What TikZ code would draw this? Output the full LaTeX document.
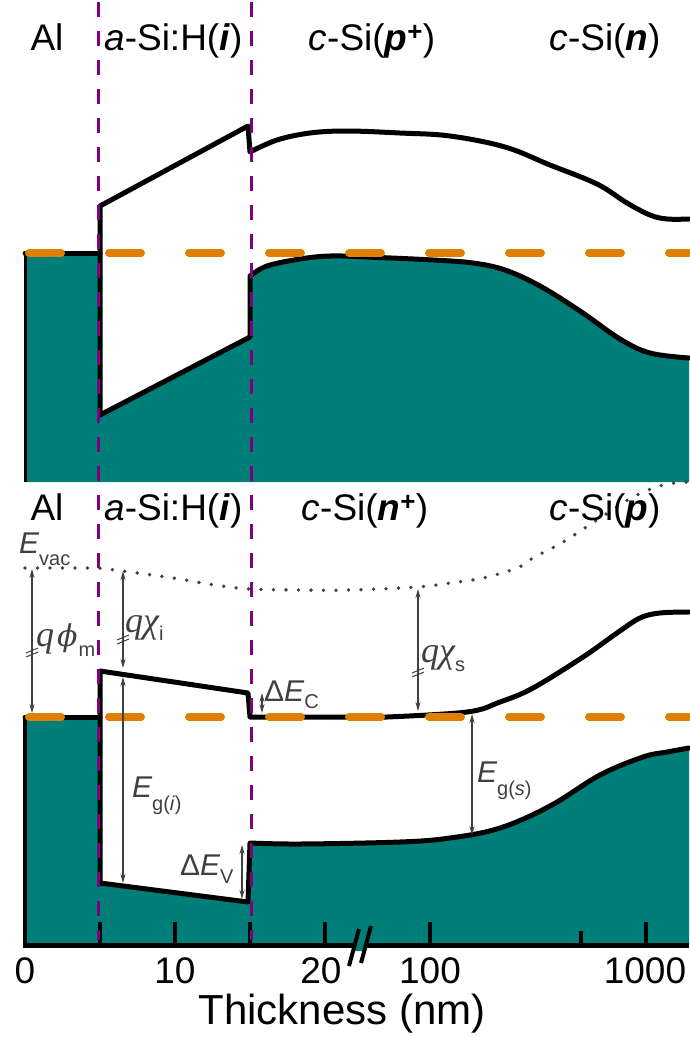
\documentclass[tikz,border=0pt]{standalone}
\usepackage{fontspec}
\setmainfont{Liberation Sans}
\newfontfamily\serf{Liberation Serif}
\newfontfamily\dserf{DejaVu Serif}
\usetikzlibrary{arrows.meta}
\definecolor{tealc}{RGB}{0,127,122}
\definecolor{fermi}{RGB}{224,128,0}
\definecolor{purp}{RGB}{128,0,128}
\definecolor{arr}{RGB}{64,64,64}
\newcommand{\sbx}[2]{\raisebox{-#1pt}{\fontsize{20}{20}\selectfont #2}}
\newcommand{\bE}{{\fontsize{30}{30}\selectfont\itshape E}}
\newcommand{\qg}[1]{{\fontsize{36}{36}\selectfont\serf\itshape q#1}}
\begin{document}
\begin{tikzpicture}[x=1pt,y=-1pt,
  bandline/.style={line width=5pt, line join=round, line cap=round},
  fermiline/.style={draw=fermi, line width=8pt, line cap=round, dash pattern=on 32pt off 48pt},
  ifcline/.style={draw=purp, line width=3pt, dash pattern=on 15pt off 14pt},
  vacline/.style={draw=arr, line width=3.8pt, line cap=round, dash pattern=on 0pt off 12.5pt},
  dimarrow/.style={draw=arr, line width=1.1pt, {Stealth[length=9pt,width=5pt]}-{Stealth[length=9pt,width=5pt]}},
  brk/.style={draw=arr, line width=1pt},
  lab/.style={inner sep=0pt, anchor=base, font=\fontsize{37}{37}\selectfont},
  axtick/.style={line width=4pt},
  ticklab/.style={inner sep=0pt, anchor=base, font=\fontsize{37}{37}\selectfont},
  sym/.style={inner sep=0pt, text=arr, anchor=base west},
]
\useasboundingbox (0,0) rectangle (689,1037);

% ---------- top panel fill ----------
\fill[tealc] (25,253) -- (100,253) -- (100,415) -- (250,337) -- (250,276)
  -- plot[smooth,tension=0.6] coordinates {(250,276) (267,266) (300,259) (330,256) (367,257) (433,260) (473,263) (505,270) (540,286) (580,311) (620,339) (650,353) (689,358)}
  -- (689,482) -- (25,482) -- cycle;
% ---------- bottom panel fill ----------
\fill[tealc] (25,717) -- (100,717) -- (100,883) -- (248,902) -- (250,843)
  -- plot[smooth,tension=0.6] coordinates {(250,843) (300,844) (400,842) (450,838) (500,828) (550,806) (600,775) (643,757) (667,752) (689,748)}
  -- (689,945) -- (25,945) -- cycle;

% ---------- top band lines ----------
\draw[line width=3pt] (25,253) -- (25,482);
\draw[bandline] (25,253) -- (100,253);
\draw[bandline] (100,415) -- (100,206) -- (248,126) -- (250,152)
  -- plot[smooth,tension=0.6] coordinates {(250,152) (277,140) (310,133) (347,131) (400,133) (450,136) (505,147) (550,165) (597,184) (627,203) (650,215) (667,219) (689,219)};
\draw[bandline] (100,415) -- (250,337) -- (250,276)
  -- plot[smooth,tension=0.6] coordinates {(250,276) (267,266) (300,259) (330,256) (367,257) (433,260) (473,263) (505,270) (540,286) (580,311) (620,339) (650,353) (689,358)};

% ---------- bottom band lines ----------
\draw[bandline] (25,717) -- (100,717);
\draw[bandline] (100,883) -- (100,671) -- (248,693) -- (250,717) -- (387,717)
  -- plot[smooth,tension=0.6] coordinates {(387,717) (467,712) (500,702) (533,688) (583,657) (617,633) (640,618) (660,613) (689,612)};
\draw[bandline] (100,883) -- (248,902) -- (250,843)
  -- plot[smooth,tension=0.6] coordinates {(250,843) (300,844) (400,842) (450,838) (500,828) (550,806) (600,775) (643,757) (667,752) (689,748)};

% ---------- axes ----------
\draw[line width=4pt] (25,717) -- (25,947);
\draw[line width=5pt] (23,945) -- (689,945);
\foreach \x in {25,100,175,250,325,430,646} \draw[axtick] (\x,922) -- (\x,945);
\draw[axtick] (581,931) -- (581,945);
% axis break
\fill[tealc] (354,940) -- (366,940) -- (365,951) -- (353,951) -- cycle;
\draw[line width=4pt] (349,966) -- (359,929);
\draw[line width=4pt] (361,963) -- (371,926);

% ---------- Fermi levels ----------
\draw[fermiline] (29,253) -- (689,253);
\draw[fermiline] (29,717) -- (689,717);

% ---------- interfaces ----------
\coordinate (i1t) at (98,2);  \coordinate (i1b) at (98,940);
\coordinate (i2t) at (251,2); \coordinate (i2b) at (251,940);
\draw[ifcline] (i1t) -- (i1b);
\draw[ifcline] (i2t) -- (i2b);

% ---------- vacuum level ----------
\draw[vacline] (25,568) -- (98,568)
  -- plot[smooth,tension=0.6] coordinates {(98,568) (123,571) (173,578) (215,585) (250,589) (300,590) (350,590) (417,587) (450,583) (483,578) (517,568) (533,558) (563,542) (597,520) (633,497) (663,485) (689,482)};

% ---------- dimension arrows ----------
\coordinate (phT) at (32,569);  \coordinate (phB) at (32,713);
\coordinate (ciT) at (123,571); \coordinate (ciB) at (123,668);
\coordinate (giT) at (123,677); \coordinate (giB) at (123,883);
\coordinate (dcT) at (262,693); \coordinate (dcB) at (262,713);
\coordinate (dvT) at (242,845); \coordinate (dvB) at (242,899);
\coordinate (csT) at (418,589); \coordinate (csB) at (418,711);
\coordinate (gsT) at (472,714); \coordinate (gsB) at (472,835);
\draw[dimarrow] (phT) -- (phB);
\draw[dimarrow] (ciT) -- (ciB);
\draw[dimarrow] (giT) -- (giB);
\draw[dimarrow] (dcT) -- (dcB);
\draw[dimarrow] (dvT) -- (dvB);
\draw[dimarrow] (csT) -- (csB);
\draw[dimarrow] (gsT) -- (gsB);
% break marks
\draw[brk] (26,653) -- (38,648) (26,657) -- (38,652);
\draw[brk] (117,640) -- (129,635) (117,644) -- (129,639);
\draw[brk] (412,673) -- (424,668) (412,677) -- (424,672);

% ---------- symbols ----------
\node[sym] (evac) at (19,553) {\bE\sbx{12}{vac}};
\node[sym] (phim) at (36,646) {{\fontsize{36}{36}\selectfont\serf\itshape q}\kern3pt{\fontsize{30}{30}\selectfont\dserf\itshape ϕ}\kern1pt\sbx{10}{m}};
\node[sym] (chii) at (125,632) {\qg{χ}\sbx{8}{i}};
\node[sym] (chis) at (421,662) {\qg{χ}\sbx{9}{s}};
\node[sym] (dec) at (264,701) {{\fontsize{30}{30}\selectfont Δ}\bE\sbx{7}{C}};
\node[sym] (dev) at (180,875) {{\fontsize{30}{30}\selectfont Δ}\bE\sbx{8}{V}};
\node[sym] (egi) at (132,797) {\bE\sbx{13}{g(\textit{i})}};
\node[sym] (egs) at (477,782) {\bE\sbx{13}{g(\textit{s})}};

% ---------- region labels ----------
\node[lab] (al1) at (47,50) {Al};
\node[lab, anchor=base west] (as1) at (104,50) {\textit{a}-Si:H(\textbf{\textit{i}})};
\node[lab] (cp1) at (372,50) {\textit{c}-Si(\textbf{\textit{p}}\textsuperscript{\textbf{+}})};
\node[lab] (cn1) at (605,50) {\textit{c}-Si(\textbf{\textit{n}})};
\node[lab] (al2) at (47,520) {Al};
\node[lab, anchor=base west] (as2) at (104,520) {\textit{a}-Si:H(\textbf{\textit{i}})};
\node[lab] (cn2) at (365,520) {\textit{c}-Si(\textbf{\textit{n}}\textsuperscript{\textbf{+}})};
\node[lab] (cp2) at (605,520) {\textit{c}-Si(\textbf{\textit{p}})};

% ---------- axis labels ----------
\node[ticklab] (t0) at (25,983) {0};
\node[ticklab] (t10) at (175,983) {10};
\node[ticklab] (t20) at (321,983) {20};
\node[ticklab] (t100) at (430,983) {100};
\node[ticklab] (t1000) at (645,983) {1000};
\node[inner sep=0pt, anchor=base, font=\fontsize{42}{42}\selectfont] (xlab) at (342,1024) {Thickness (nm)};
\end{tikzpicture}
\end{document}
